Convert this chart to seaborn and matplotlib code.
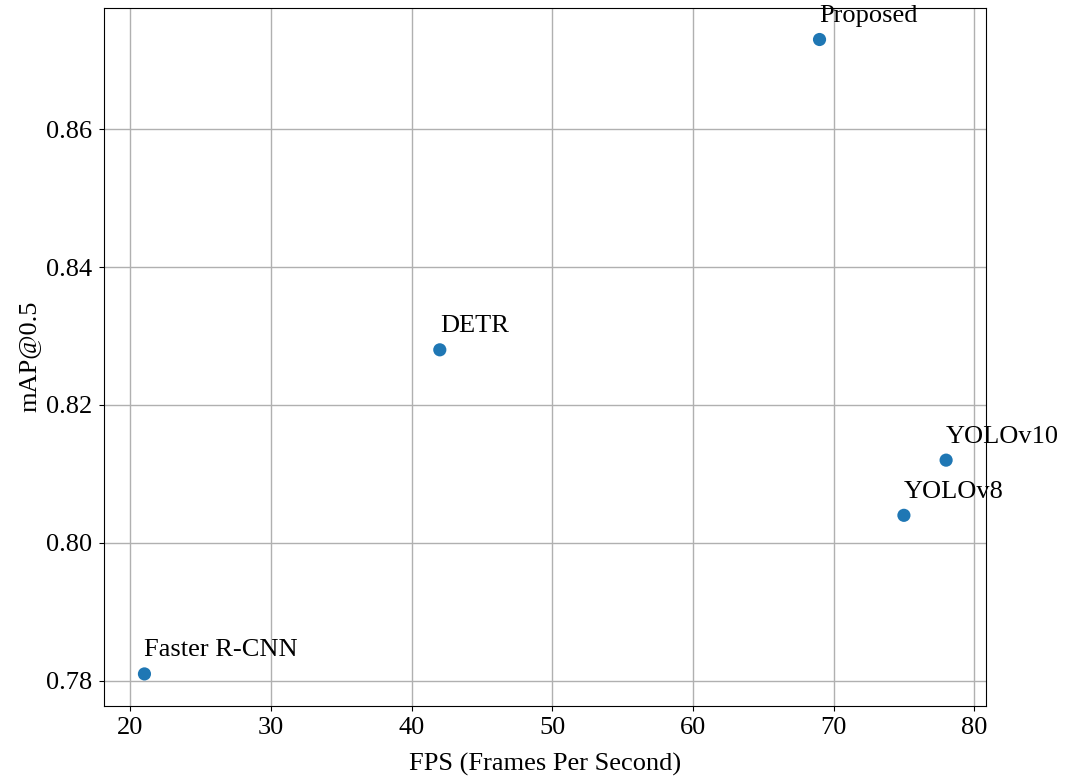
import matplotlib
matplotlib.use("Agg")
import matplotlib.pyplot as plt
import seaborn as sns
import pandas as pd

models = ["Faster R-CNN", "DETR", "YOLOv8", "YOLOv10", "Proposed"]
fps = [21, 42, 75, 78, 69]
map50 = [0.781, 0.828, 0.804, 0.812, 0.873]

df = pd.DataFrame({"Model": models, "FPS": fps, "mAP": map50})

plt.rcParams['font.family'] = ['Liberation Serif', 'DejaVu Serif']
plt.rcParams['font.size'] = 19

fig, ax = plt.subplots(figsize=(10.65, 7.78), dpi=100)
sns.scatterplot(data=df, x="FPS", y="mAP", ax=ax, s=90, color="#1f77b4",
                edgecolor="none", zorder=3)

# label each point just above and to the right
for _, row in df.iterrows():
    ax.annotate(row["Model"], (row["FPS"], row["mAP"]), xytext=(0, 9),
                textcoords="offset points", ha="left", va="bottom", fontsize=19)

ax.set_xlabel("FPS (Frames Per Second)", fontsize=19, labelpad=10)
ax.set_ylabel("mAP@0.5", fontsize=19)
ax.grid(True, color="#b0b0b0", linewidth=1)
ax.set_axisbelow(True)
ax.tick_params(labelsize=19, pad=5)

plt.subplots_adjust(left=0.098, right=0.926, top=0.99, bottom=0.093)
plt.savefig("out.png", dpi=100)
plt.close()
